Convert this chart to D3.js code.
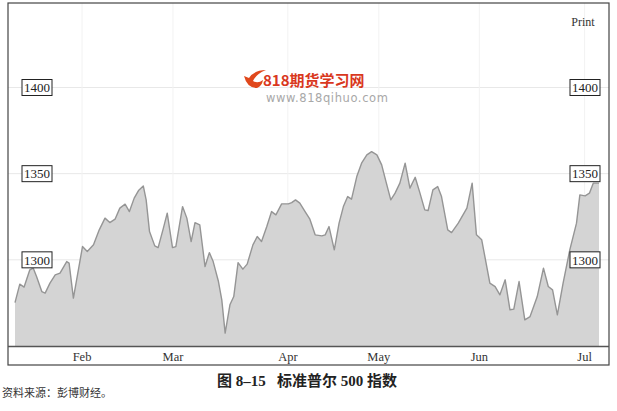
<!DOCTYPE html>
<html lang="zh">
<head>
<meta charset="UTF-8">
<script src="https://d3js.org/d3.v7.min.js"></script>
<style>
  body { margin: 0; background: #fff; }
  svg { display: block; }
  .serif { font-family: "Liberation Serif", "DejaVu Serif", serif; }
</style>
</head>
<body>
<script>
// trading-day index (0 = first session shown) and S&P 500 close
var days = [0, 1, 1.9, 3.1, 3.8, 4.5, 5.6, 6.3, 7.3, 8.4, 9.4, 10.8, 11.3, 12.2, 14.1, 15.1, 16.4, 17.6, 18.8, 19.8,
  20.9, 21.9, 23, 23.9, 24.9, 25.8, 26.8, 27.4, 28.1, 29.2, 29.9, 31, 31.8, 32.9, 33.6, 35, 35.9, 36.8, 37.6, 38.6,
  39.7, 40.6, 41.4, 42.5, 43.2, 43.9, 44.9, 45.7, 46.6, 47.6, 48.5, 49.7, 50.6, 51.5, 52.6, 53.6, 54.5, 55.7, 57.1, 57.8,
  58.6, 59.5, 60.6, 61.6, 62.7, 64.1, 64.8, 65.6, 66.7, 67.7, 68.6, 69.5, 70.3, 71.4, 72.4, 73.5, 74.5, 75.6, 76.6, 77.5,
  78.5, 79.4, 80.4, 81.5, 82.5, 83.6, 84.6, 85.6, 86.3, 87.3, 88.3, 89.1, 90.4, 91.2, 92.6, 94.4, 95.5, 96.4, 97.5, 99.2,
  100.3, 101.3, 102.4, 103.4, 104.2, 105.3, 106.5, 107.6, 109.1, 110.4, 111.4, 112.3, 113.3, 114.5, 115.9, 117.3, 118, 119.1, 120, 120.8,
  121.7, 122];
var closes = [1275.2, 1285.9, 1284.2, 1294.2, 1295.2, 1290.3, 1281.6, 1280.7, 1286.5, 1291.3, 1292.3, 1299, 1298.1, 1277.8, 1307.7, 1304.8, 1308.7, 1317.4, 1324.2, 1321.6,
  1323.6, 1330, 1332.3, 1328, 1335.8, 1340.2, 1342.9, 1334.8, 1316.4, 1308.1, 1307.1, 1318.4, 1327.1, 1307.1, 1307.7, 1330.9, 1324.2, 1310.6, 1321.6, 1320.3,
  1296.1, 1304.2, 1299, 1287.4, 1276.8, 1257.5, 1273.9, 1278.7, 1298.4, 1294.6, 1297.5, 1308.7, 1313.5, 1310.6, 1319.3, 1328, 1326.1, 1332.5, 1332.5, 1333.2,
  1334.8, 1332.9, 1328, 1323.6, 1314.5, 1313.9, 1314.5, 1319.3, 1305.8, 1321.3, 1330.9, 1336.7, 1335.2, 1348.3, 1356.1, 1360.9, 1362.8, 1360.9, 1355.1, 1345.4,
  1334.8, 1338.7, 1344.5, 1356.1, 1341.6, 1347.9, 1338.7, 1329, 1328.6, 1340.6, 1342.5, 1336.7, 1317.4, 1315.8, 1321.3, 1330, 1344.5, 1314.5, 1311.6, 1286.5,
  1284.5, 1279.7, 1288.4, 1271, 1271.4, 1287.4, 1265.2, 1267.1, 1278.7, 1295.2, 1284.5, 1282.6, 1268.1, 1286.5, 1305.8, 1321.3, 1337.7, 1337.1, 1338.7, 1344.5,
  1344.5, 1344.5];

var monthLabels = ["Feb", "Mar", "Apr", "May", "Jun", "Jul"];
var monthDays = [14, 33, 57, 76, 97, 119];   // first session of each month
var priceTicks = [1300, 1350, 1400];

var data = days.map(function (d, i) { return { day: d, close: closes[i] }; });

var width = 617, height = 411;
var svg = d3.select("body").append("svg")
  .attr("width", width)
  .attr("height", height);

// frame
var fx0 = 8, fx1 = 609, fy0 = 3, fy1 = 365, plotBottom = 346;

var x = d3.scaleLinear().domain([0, 122]).range([15, 599]);
var y = d3.scaleLinear().domain([1250, 1400]).range([plotBottom, 87.5]);

// faint grid
svg.append("g").selectAll("line.h")
  .data(priceTicks).enter().append("line")
  .attr("x1", fx0).attr("x2", fx1)
  .attr("y1", function (d) { return y(d); })
  .attr("y2", function (d) { return y(d); })
  .style("stroke", "#e8e8e8").style("stroke-width", 1);

svg.append("g").selectAll("line.v")
  .data(monthDays).enter().append("line")
  .attr("x1", function (d) { return x(d); })
  .attr("x2", function (d) { return x(d); })
  .attr("y1", fy0).attr("y2", plotBottom)
  .style("stroke", "#f2f2f2").style("stroke-width", 1);

// area + line
var area = d3.area()
  .x(function (d) { return x(d.day); })
  .y0(plotBottom)
  .y1(function (d) { return y(d.close); });

var line = d3.line()
  .x(function (d) { return x(d.day); })
  .y(function (d) { return y(d.close); });

svg.append("path").datum(data)
  .attr("d", area)
  .style("fill", "#d4d4d4");

svg.append("path").datum(data)
  .attr("d", line)
  .style("fill", "none")
  .style("stroke", "#959595")
  .style("stroke-width", 1.4)
  .style("stroke-linejoin", "round");

// frame lines
svg.append("rect")
  .attr("x", fx0).attr("y", fy0)
  .attr("width", fx1 - fx0).attr("height", fy1 - fy0)
  .style("fill", "none").style("stroke", "#444").style("stroke-width", 1.2);

svg.append("line")
  .attr("x1", fx0).attr("x2", fx1)
  .attr("y1", plotBottom + 0.5).attr("y2", plotBottom + 0.5)
  .style("stroke", "#555").style("stroke-width", 1.4);

// month labels
svg.append("g").selectAll("text")
  .data(monthLabels).enter().append("text")
  .attr("class", "serif")
  .attr("x", function (d, i) { return x(monthDays[i]); })
  .attr("y", 361)
  .attr("text-anchor", "middle")
  .style("font-size", "12.5px")
  .style("fill", "#333")
  .text(function (d) { return d; });

// boxed price labels on both sides
[37, 585].forEach(function (cx) {
  var g = svg.append("g").selectAll("g")
    .data(priceTicks).enter().append("g")
    .attr("transform", function (d) { return "translate(" + cx + "," + y(d) + ")"; });
  g.append("rect")
    .attr("x", -15).attr("y", -8)
    .attr("width", 30).attr("height", 16)
    .style("fill", "#fff").style("stroke", "#222").style("stroke-width", 1);
  g.append("text")
    .attr("class", "serif")
    .attr("text-anchor", "middle")
    .attr("dy", "0.36em")
    .style("font-size", "13px")
    .style("fill", "#222")
    .text(function (d) { return d; });
});

svg.append("text")
  .attr("class", "serif")
  .attr("x", 583).attr("y", 26)
  .attr("text-anchor", "middle")
  .style("font-size", "12px")
  .style("fill", "#333")
  .text("Print");

// watermark
svg.append("path")
  .attr("d", "M244,76 Q247,88 257,88 Q262,86 263,80 Q258,84 253,81 Q256,74 266,70 Q254,70 249,78 Z")
  .style("fill", "#e0481c");
svg.append("text")
  .attr("x", 263).attr("y", 86)
  .style("font-family", "'Noto Sans CJK SC', sans-serif")
  .style("font-weight", "bold")
  .style("font-size", "15px")
  .style("fill", "#d9381e")
  .text("818期货学习网");
svg.append("text")
  .attr("x", 266).attr("y", 102)
  .style("font-family", "'DejaVu Sans', sans-serif")
  .style("font-size", "11.5px")
  .style("letter-spacing", "0.6px")
  .style("fill", "#a8a8a8")
  .text("www.818qihuo.com");

// caption
svg.append("text")
  .attr("x", 307).attr("y", 386)
  .attr("text-anchor", "middle")
  .style("font-family", "'Liberation Serif', 'Noto Sans CJK SC', serif")
  .style("font-weight", "bold")
  .style("font-size", "15px")
  .style("fill", "#222")
  .text("图 8–15\u00a0\u00a0\u00a0标准普尔 500 指数");

svg.append("text")
  .attr("x", 2).attr("y", 397)
  .style("font-family", "'Noto Sans CJK SC', sans-serif")
  .style("font-size", "11px")
  .style("fill", "#333")
  .text("资料来源：彭博财经。");
</script>
</body>
</html>
